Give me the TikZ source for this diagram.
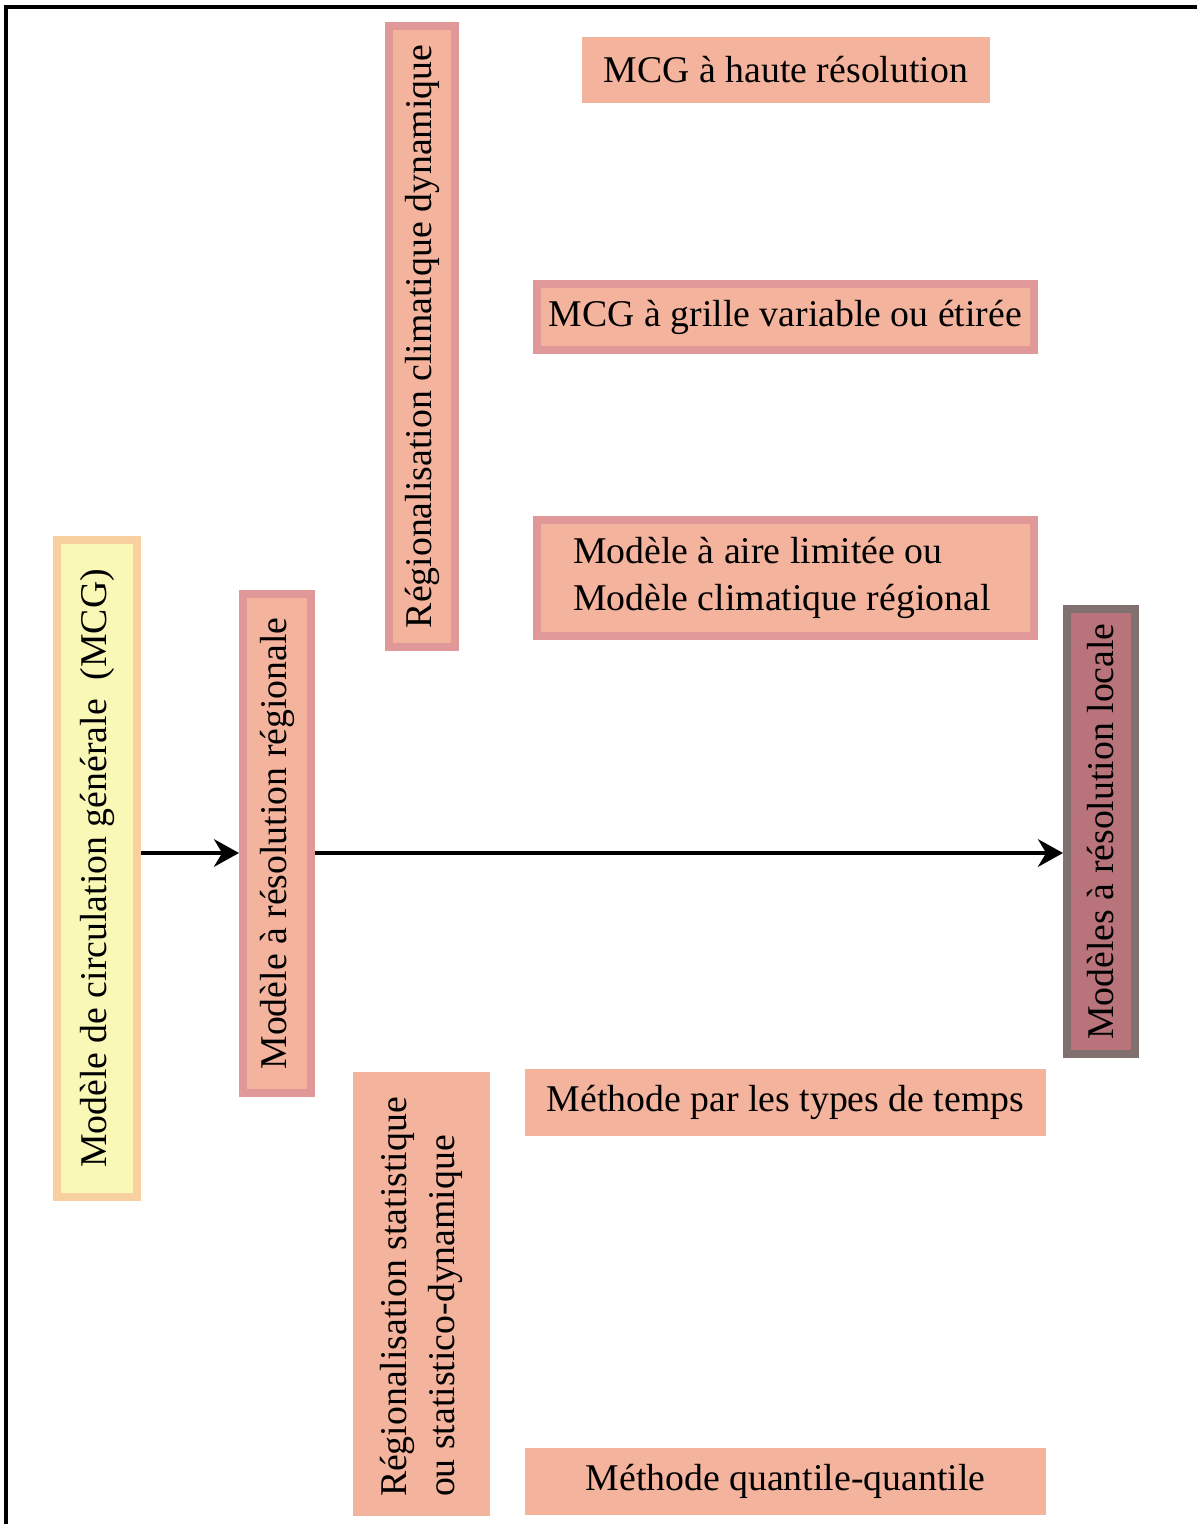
\documentclass[tikz,border=0pt]{standalone}
\usepackage{fontspec}
\setmainfont{Liberation Serif}
\usetikzlibrary{arrows.meta}

\definecolor{saumon}{RGB}{244,179,157}
\definecolor{rosebord}{RGB}{224,152,152}
\definecolor{jaunepale}{RGB}{250,248,182}
\definecolor{orangebord}{RGB}{248,208,160}
\definecolor{vieuxrose}{RGB}{184,116,122}
\definecolor{grisbord}{RGB}{128,112,112}

\begin{document}
\begin{tikzpicture}[x=0.02cm,y=-0.02cm,
  font=\fontsize{21.5}{27}\selectfont,
  boite/.style={fill=saumon,inner sep=0pt},
  cadre/.style={boite,draw=rosebord,line width=0.16cm},
  vert/.style={rotate=90},
  fleche/.style={line width=0.09cm,-{Stealth[length=0.5cm,width=0.55cm]}}]

\useasboundingbox (0,0) rectangle (1197,1524);

% outline
\draw[line width=0.08cm] (6,1524) -- (6,7) -- (1197,7);

% left part
\node[cadre,vert,fill=jaunepale,draw=orangebord,minimum width=13.14cm,minimum height=1.6cm]
  (mcg) at (97,868.5) {Modèle de circulation générale~~(MCG)};
\node[cadre,vert,minimum width=9.98cm,minimum height=1.36cm]
  (regionale) at (277,843.5) {Modèle à résolution régionale};
\node[cadre,vert,fill=vieuxrose,draw=grisbord,minimum width=8.9cm,minimum height=1.36cm]
  (locale) at (1101,831.5) {Modèles à résolution locale};

% dynamique
\node[cadre,vert,minimum width=12.42cm,minimum height=1.32cm]
  (dyn) at (422,336.5) {Régionalisation climatique dynamique};
\node[boite,minimum width=8.16cm,minimum height=1.32cm]
  (haute) at (786,70) {MCG à haute résolution};
\node[cadre,minimum width=9.94cm,minimum height=1.32cm]
  (grille) at (785.5,317) {MCG à grille variable ou étirée};
\node[cadre,minimum width=9.94cm,minimum height=2.32cm,text width=8.5cm,inner xsep=0.72cm,align=flush left]
  (aire) at (785.5,578) {Modèle à aire limitée ou\\Modèle climatique régional};

% statistique
\node[boite,vert,minimum width=8.88cm,minimum height=2.74cm,text width=8.12cm,inner xsep=0.38cm,align=flush left]
  (stat) at (421.5,1294) {Régionalisation statistique\\ou statistico-dynamique};
\node[boite,minimum width=10.42cm,minimum height=1.34cm]
  (types) at (785.5,1102.5) {Méthode par les types de temps};
\node[boite,minimum width=10.42cm,minimum height=1.34cm]
  (quantile) at (785.5,1481.5) {Méthode quantile-quantile};

% arrows (rotated nodes: north is left, south is right)
\draw[fleche] (mcg.south |- 0,853) -- (regionale.north |- 0,853);
\draw[fleche] (regionale.south |- 0,853) -- (locale.north |- 0,853);
\end{tikzpicture}
\end{document}
